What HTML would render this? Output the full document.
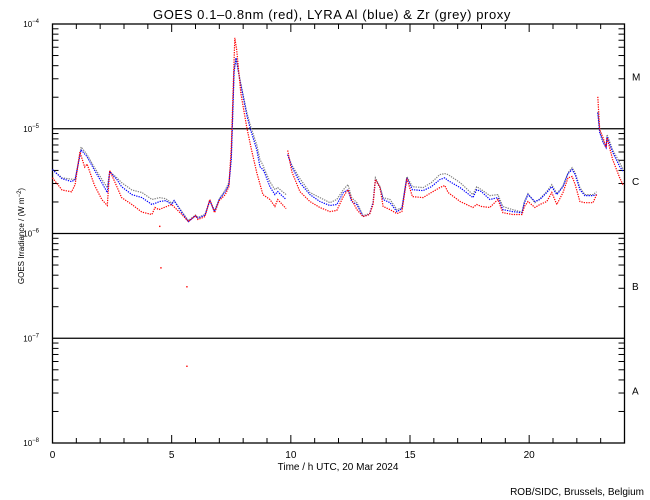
<!DOCTYPE html>
<html><head><meta charset="utf-8"><style>
body{margin:0;background:#fff;}
svg{display:block;font-family:"Liberation Sans",sans-serif;}
</style></head><body>
<svg id="chart" width="650" height="500" viewBox="0 0 650 500">
<text x="332" y="19" font-size="13" letter-spacing="0.6" text-anchor="middle">GOES 0.1–0.8nm (red), LYRA Al (blue) &amp; Zr (grey) proxy</text>
<g id="axes"></g>
<g id="series"></g>
<text x="338" y="470" font-size="10" text-anchor="middle">Time / h UTC, 20 Mar 2024</text>
<text transform="translate(24,236) rotate(-90)" font-size="8" text-anchor="middle">GOES Irradiance / (W m<tspan baseline-shift="super" font-size="6">−2</tspan>)</text>
<text x="644" y="495" font-size="10" text-anchor="end">ROB/SIDC, Brussels, Belgium</text>
</svg>
<script>
// values in units of 1e-6 W/m^2
const redT=[0,0.4,0.8,0.95,1.15,1.35,1.45,1.75,2.07,2.3,2.4,2.7,2.9,3.33,3.75,4.17,4.3,4.46,5.0,5.43,5.7,6.0,6.1,6.4,6.6,6.8,7.0,7.25,7.4,7.5,7.65,7.73,7.9,8.15,8.35,8.57,8.83,9.12,9.33,9.45,9.8,null,9.87,10.04,10.38,10.8,11.22,11.64,11.93,12.2,12.4,12.55,12.77,13.03,13.3,13.45,13.55,13.74,13.87,14.16,14.45,14.66,14.8,14.87,15.1,15.55,15.9,16.25,16.46,16.6,17.1,17.64,17.8,18.0,18.35,18.69,18.9,19.3,19.7,19.8,19.95,20.24,20.45,20.74,20.95,21.16,21.42,21.63,21.8,21.93,22.13,22.34,22.68,22.83,null,22.88,22.96,23.1,23.23,23.27,23.5,23.8,23.95];
const redV=[3.4,2.6,2.5,2.93,6.0,4.3,4.6,2.93,2.11,1.85,4.0,2.8,2.2,1.89,1.6,1.52,1.77,1.69,1.89,1.52,1.30,1.48,1.36,1.45,2.11,1.58,2.06,2.35,2.8,6.7,73.6,56.5,22.0,10.4,6.3,3.8,2.35,2.11,1.81,2.11,1.73,null,6.2,3.9,2.51,2.02,1.77,1.62,1.66,2.25,2.62,2.11,1.69,1.45,1.52,1.89,3.27,2.74,1.81,1.69,1.55,1.62,2.62,3.34,2.25,2.2,2.46,2.74,2.87,2.46,2.02,1.77,1.89,1.81,1.77,2.11,1.58,1.52,1.52,1.81,2.02,1.77,1.89,2.02,2.46,1.89,2.46,3.4,3.5,2.93,2.02,1.97,1.97,2.35,null,20.2,9.8,8.2,6.6,8.2,5.1,3.4,2.87];
const blueT=[0,0.4,0.8,0.95,1.2,1.45,1.75,2.07,2.3,2.4,2.7,2.9,3.33,3.75,4.17,4.5,4.75,5.0,5.1,5.43,5.7,6.0,6.1,6.4,6.6,6.8,7.0,7.25,7.4,7.5,7.62,7.7,7.73,7.86,8.0,8.15,8.3,8.57,8.7,8.83,8.9,9.12,9.33,9.45,9.8,null,9.87,10.04,10.38,10.8,11.22,11.64,11.93,12.2,12.4,12.55,12.77,13.03,13.3,13.45,13.55,13.74,13.87,14.16,14.45,14.66,14.8,14.87,15.1,15.55,15.9,16.25,16.46,16.6,17.1,17.64,17.8,18.0,18.35,18.69,18.9,19.3,19.7,19.8,19.95,20.24,20.45,20.74,20.95,21.16,21.42,21.63,21.8,21.93,22.13,22.34,22.68,22.83,null,22.88,22.96,23.1,23.23,23.27,23.5,23.8,23.95];
const blueV=[4.07,3.34,3.13,3.27,6.3,5.4,4.07,3.06,2.46,3.9,3.27,2.8,2.35,2.2,1.89,2.02,2.06,1.89,2.06,1.58,1.30,1.48,1.40,1.50,2.06,1.62,2.11,2.51,2.93,5.1,35,47.5,43.5,29.3,20.2,13.6,10,6.3,4.35,4.07,3.8,2.8,2.35,2.51,2.11,null,5.65,4.35,3.06,2.35,2.02,1.85,1.89,2.46,2.62,2.02,1.89,1.45,1.52,1.97,3.27,2.74,2.11,1.97,1.62,1.73,2.74,3.4,2.62,2.57,2.8,3.27,3.4,3.2,2.74,2.2,2.62,2.51,2.11,2.2,1.69,1.62,1.58,1.97,2.35,2.02,2.11,2.46,2.8,2.35,2.8,3.73,4.07,3.65,2.62,2.3,2.3,2.35,null,14.2,9.2,7.4,6.6,8.4,6.0,4.35,3.9];
const greyT=blueT.slice();
const greyV=[4.07,3.4,3.3,3.27,6.7,5.65,4.3,3.3,2.74,3.9,3.4,3.06,2.6,2.46,2.11,2.2,2.15,1.95,2.06,1.62,1.33,1.5,1.42,1.52,2.06,1.65,2.15,2.6,3.06,5.4,36,47.5,45,30,21,14.5,10.8,7.0,5.1,4.5,4.07,3.13,2.62,2.74,2.35,null,5.65,4.5,3.34,2.46,2.2,1.97,2.11,2.62,2.93,2.2,1.97,1.48,1.55,2.0,3.4,2.8,2.2,2.11,1.69,1.75,2.8,3.5,2.8,2.74,3.06,3.65,3.73,3.65,3.06,2.35,2.8,2.62,2.3,2.35,1.81,1.69,1.6,2.02,2.4,1.97,2.15,2.51,2.93,2.4,2.85,3.8,4.25,3.8,2.74,2.35,2.35,2.5,null,14.5,9.8,7.6,6.8,8.8,6.3,4.75,4.07];
const outT=[4.5,4.55,5.64,5.64];
const outV=[1.17,0.47,0.31,0.054];
const xTicks=[0,5,10,15,20];
const yDecades=[-4,-5,-6,-7,-8];
const classLetters=["M","C","B","A"];

const X0=52.5,X1=624.5,Y0=24,Y1=443;
const NS="http://www.w3.org/2000/svg";
function xs(t){return X0+(t/24)*(X1-X0);}
function ys(vMicro){const lg=Math.log10(vMicro*1e-6);return Y0+(-4-lg)/4*(Y1-Y0);}
function ysLog(lg){return Y0+(-4-lg)/4*(Y1-Y0);}
function mk(tag,attrs,parent){const e=document.createElementNS(NS,tag);for(const k in attrs)e.setAttribute(k,attrs[k]);parent.appendChild(e);return e;}
const axes=document.getElementById('axes');
const ser=document.getElementById('series');
let fr=mk('rect',{x:X0,y:Y0,width:X1-X0,height:Y1-Y0,fill:'none',stroke:'#000','stroke-width':1.3},axes);


for(let h=0;h<=24;h++){
  const x=xs(h);const L=(h%5===0)?8:5;
  let a=mk('line',{x1:x,x2:x,y1:Y1,y2:Y1-L,stroke:'#000','stroke-width':1},axes);
  
  
  let b=mk('line',{x1:x,x2:x,y1:Y0,y2:Y0+L,stroke:'#000','stroke-width':1},axes);
  
  
}
xTicks.forEach(h=>{
  let t=mk('text',{x:xs(h),y:458,'font-size':10,'text-anchor':'middle'},axes);t.textContent=h;
  
  
});
for(let d=-8;d<-4;d++){
  for(let m=2;m<=9;m++){
    const y=ysLog(d+Math.log10(m));
    let a=mk('line',{x1:X0,x2:X0+6,y1:y,y2:y,stroke:'#000','stroke-width':1},axes);
    
    
    let b=mk('line',{x1:X1,x2:X1-6,y1:y,y2:y,stroke:'#000','stroke-width':1},axes);
    
    
  }
}
yDecades.forEach(d=>{
  const y=ysLog(d);
  if(d>-8&&d<-4){
    let l=mk('line',{x1:X0,x2:X1,y1:y,y2:y,stroke:'#000','stroke-width':1.2},axes);
    
    
  }
  let t=mk('text',{x:39,y:y+3,'font-size':8,'text-anchor':'end'},axes);
  t.textContent='10';
  let s=mk('tspan',{'font-size':6,dy:-4},t);s.textContent=String(d).replace('-','−');
  
  
});
classLetters.forEach((c,i)=>{
  const y=(ysLog(-4-i)+ysLog(-5-i))/2;
  let t=mk('text',{x:632,y:y+4,'font-size':10},axes);t.textContent=c;
  
  
});
function drawSeries(T,V,color,name){
  let segs=[],cur=[];
  for(let i=0;i<T.length;i++){
    if(T[i]===null){if(cur.length)segs.push(cur);cur=[];continue;}
    cur.push(xs(T[i]).toFixed(1)+','+ys(V[i]).toFixed(1));
  }
  if(cur.length)segs.push(cur);
  segs.forEach(s=>{
    let p=mk('polyline',{points:s.join(' '),fill:'none',stroke:color,'stroke-width':1.2,'stroke-dasharray':'1.3 1.1'},ser);
    
    
  });
}
drawSeries(greyT,greyV,'#808080','zr-proxy-series');
drawSeries(blueT,blueV,'#0000ff','al-proxy-series');
drawSeries(redT,redV,'#ff0000','goes-series');
outT.forEach((t,i)=>{
  let r=mk('rect',{x:xs(t)-0.7,y:ys(outV[i])-0.7,width:1.4,height:1.4,fill:'#ff0000'},ser);
  
  
});
</script>
</body></html>
